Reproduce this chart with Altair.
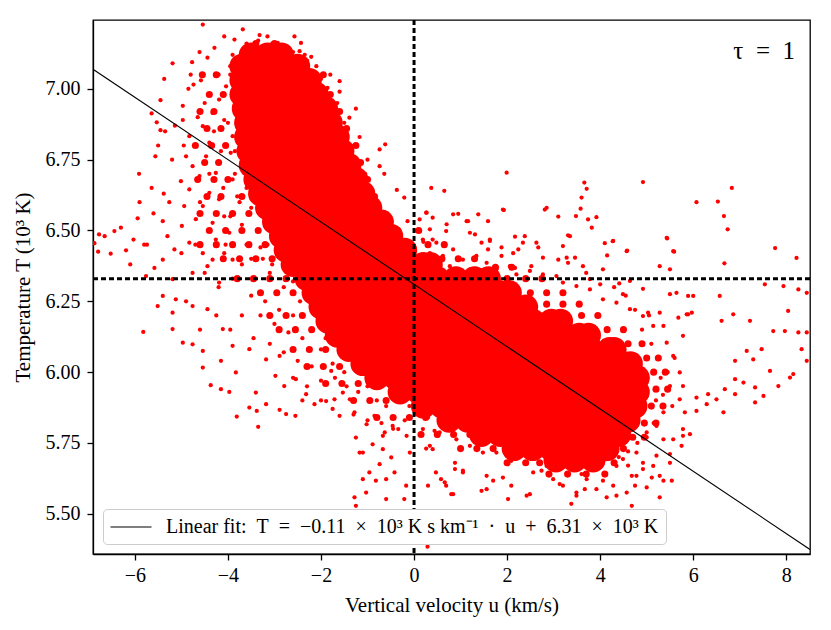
import altair as alt
import pandas as pd

# ---------------- data ----------------
# solid core of the cloud: rows of (T, [u positions])
core_rows = [
    (7.12, [-3.5, -3.15, -2.85]),
    (7.08, [-3.7, -3.3, -2.9, -2.5]),
    (7.03, [-3.7, -3.3, -2.9, -2.5, -2.25]),
    (6.98, [-3.7, -3.3, -2.9, -2.5, -2.1]),
    (6.93, [-3.65, -3.25, -2.85, -2.45, -2.05, -1.9]),
    (6.88, [-3.6, -3.2, -2.8, -2.4, -2.0, -1.8]),
    (6.83, [-3.6, -3.2, -2.8, -2.4, -2.0, -1.65]),
    (6.78, [-3.55, -3.15, -2.75, -2.35, -1.95, -1.55]),
    (6.73, [-3.5, -3.1, -2.7, -2.3, -1.9, -1.5, -1.4]),
    (6.68, [-3.4, -3.0, -2.6, -2.2, -1.8, -1.4, -1.25]),
    (6.63, [-3.3, -2.9, -2.5, -2.1, -1.7, -1.3, -1.1]),
    (6.58, [-3.15, -2.75, -2.35, -1.95, -1.55, -1.15, -0.95]),
    (6.53, [-3.0, -2.6, -2.2, -1.8, -1.4, -1.0, -0.7]),
    (6.48, [-2.85, -2.45, -2.05, -1.65, -1.25, -0.85, -0.5]),
    (6.43, [-2.75, -2.35, -1.95, -1.55, -1.15, -0.75, -0.35, -0.2]),
    (6.38, [-2.6, -2.2, -1.8, -1.4, -1.0, -0.6, -0.2, 0.2, 0.35]),
    (6.33, [-2.3, -1.9, -1.5, -1.1, -0.7, -0.3, 0.1, 0.5, 0.9, 1.3, 1.6]),
    (6.28, [-2.15, -1.75, -1.35, -0.95, -0.55, -0.15, 0.25, 0.65, 1.05, 1.45, 1.85, 2.05]),
    (6.23, [-2.0, -1.6, -1.2, -0.8, -0.4, 0.0, 0.4, 0.8, 1.2, 1.6, 2.0, 2.4]),
    (6.18, [-1.85, -1.45, -1.05, -0.65, -0.25, 0.15, 0.55, 0.95, 1.35, 1.75, 2.15, 2.55, 2.95, 3.15]),
    (6.13, [-1.65, -1.25, -0.85, -0.45, -0.05, 0.35, 0.75, 1.15, 1.55, 1.95, 2.35, 2.75, 3.15, 3.55, 3.75]),
    (6.08, [-1.4, -1.0, -0.6, -0.2, 0.2, 0.6, 1.0, 1.4, 1.8, 2.2, 2.6, 3.0, 3.4, 3.8, 4.2, 4.3]),
    (6.03, [-1.1, -0.7, -0.3, 0.1, 0.5, 0.9, 1.3, 1.7, 2.1, 2.5, 2.9, 3.3, 3.7, 4.1, 4.5, 4.65]),
    (5.98, [-0.8, -0.4, 0.0, 0.4, 0.8, 1.2, 1.6, 2.0, 2.4, 2.8, 3.2, 3.6, 4.0, 4.4, 4.8]),
    (5.93, [-0.3, 0.1, 0.5, 0.9, 1.3, 1.7, 2.1, 2.5, 2.9, 3.3, 3.7, 4.1, 4.5, 4.8]),
    (5.88, [0.2, 0.6, 1.0, 1.4, 1.8, 2.2, 2.6, 3.0, 3.4, 3.8, 4.2, 4.6, 4.75]),
    (5.83, [0.75, 1.15, 1.55, 1.95, 2.35, 2.75, 3.15, 3.55, 3.95, 4.35, 4.6]),
    (5.78, [1.45, 1.85, 2.25, 2.65, 3.05, 3.45, 3.85, 4.25, 4.4]),
    (5.73, [2.15, 2.55, 2.95, 3.35, 3.75, 4.15]),
    (5.69, [3.05, 3.45, 3.85]),
]

# semi-dense halo around the core: rows of (T, [u positions])
halo_rows = [
    (7.16, [-3.4, -3.0]),
    (7.05, [-4.25, -4.55, -1.95]),
    (6.98, [-4.1, -4.4, -1.8]),
    (6.92, [-4.3, -4.6, -1.6]),
    (6.86, [-4.15, -4.45, -1.45]),
    (6.80, [-4.05, -4.35, -4.7, -1.25]),
    (6.74, [-4.2, -4.5, -1.15]),
    (6.68, [-4.0, -4.3, -4.65, -1.0]),
    (6.62, [-3.7, -4.15, -4.45, -0.85]),
    (6.56, [-3.55, -3.9, -4.25, -4.6, -0.65]),
    (6.50, [-3.35, -3.7, -4.05, -4.4, -0.35, 0.1]),
    (6.45, [-3.2, -3.55, -3.9, -4.25, -4.6, 0.3, 0.65]),
    (6.40, [-3.05, -3.4, -3.75, -4.1, 0.6, 0.95, 1.3]),
    (6.37, [1.75, 2.1]),
    (6.33, [-2.75, -3.1, -3.45, -3.8, 2.0, 2.4, 2.75]),
    (6.28, [-2.6, -2.95, -3.3, 2.5, 2.85, 3.2]),
    (6.24, [2.85, 3.2, 3.55]),
    (6.20, [-2.4, -2.75, -3.1, 3.6, 3.95]),
    (6.15, [-2.2, -2.55, -2.9, 4.15, 4.5]),
    (6.10, [4.6, 4.9]),
    (6.08, [-1.9, -2.25, -2.6]),
    (6.05, [5.0, 5.25]),
    (6.02, [-1.6, -1.95, -2.3]),
    (6.00, [5.15, 5.4]),
    (5.96, [-1.2, -1.55, -1.9]),
    (5.94, [5.2, 5.45]),
    (5.90, [-0.6, -0.95, -1.3]),
    (5.88, [5.1, 5.35]),
    (5.84, [-0.1, 0.25, -0.45, -0.8]),
    (5.82, [4.95, 5.2]),
    (5.78, [0.15, 0.5, 0.85, 1.2]),
    (5.77, [4.7, 4.95]),
    (5.73, [1.0, 1.35, 1.7, 4.5]),
    (5.68, [2.0, 2.4, 2.7, 4.3]),
    (5.64, [2.9, 3.3, 3.7, 4.1]),
]

# scattered points (u, T)
pts_upper_left = [
    (-5.19, 7.09), (-5.37, 7.035), (-4.77, 7.094), (-5.45, 6.96), (-5.64, 6.913), (-5.53, 6.882),
    (-5.45, 6.854), (-5.50, 6.80), (-5.56, 6.762), (-5.91, 6.70), (-5.64, 6.65), (-5.94, 6.543),
    (-6.30, 6.51), (-6.44, 6.498), (-6.77, 6.486), (-6.65, 6.48), (-6.87, 6.455), (-6.79, 6.425),
    (-6.52, 6.418), (-6.19, 6.43), (-6.03, 6.468), (-5.74, 6.45), (-5.40, 6.533), (-5.38, 6.63),
    (-5.26, 6.60), (-5.14, 6.87), (-4.97, 6.94), (-4.85, 7.00), (-4.74, 7.015), (-4.58, 7.03),
    (-4.61, 7.13), (-4.44, 7.11), (-4.29, 7.145), (-4.54, 7.227), (-4.08, 7.185), (-3.86, 7.174),
    (-3.68, 7.21), (-3.32, 7.19), (-3.15, 7.185), (-2.93, 7.162), (-2.57, 7.185), (-2.43, 7.162),
    (-2.46, 7.133), (-2.21, 7.113), (-2.39, 7.09), (-2.00, 7.035), (-1.86, 7.003), (-1.60, 7.027),
    (-1.60, 6.99), (-1.25, 6.93), (-1.39, 6.898), (-1.17, 6.83), (-0.74, 6.786), (-0.62, 6.804),
    (-1.00, 6.75), (-0.74, 6.727), (-0.64, 6.70), (-0.37, 6.643), (-0.21, 6.616), (0.37, 6.65),
    (0.65, 6.64), (0.26, 6.563), (0.40, 6.545), (0.69, 6.498), (0.40, 6.468), (-0.14, 6.533),
    (-1.65, 6.95), (-1.5, 6.88), (-1.35, 6.8), (-1.2, 6.74), (-1.05, 6.7), (-0.9, 6.62),
    (-0.8, 6.58), (-0.6, 6.55), (-0.45, 6.5), (-0.3, 6.47), (-0.15, 6.42), (0.0, 6.44), (0.2, 6.46),
    (-1.8, 7.05), (-2.1, 7.08), (-2.3, 7.1), (-1.95, 7.0), (-3.6, 7.16), (-3.35, 7.17), (-3.05, 7.16),
    (-2.75, 7.15), (-2.6, 7.13), (-3.9, 7.12), (-3.95, 7.08), (-2.35, 7.12), (-3.8, 7.0),
]

pts_mid_left = [
    (-5.01, 6.674), (-4.83, 6.645), (-4.94, 6.586), (-4.69, 6.54), (-4.99, 6.516), (-5.15, 6.433),
    (-4.83, 6.457), (-4.54, 6.42), (-5.40, 6.397), (-5.58, 6.368), (-5.76, 6.339), (-5.19, 6.328),
    (-4.76, 6.35), (-4.44, 6.374), (-4.19, 6.316), (-4.97, 6.89), (-4.83, 6.833), (-4.90, 6.762),
    (-4.76, 6.727), (-4.61, 6.692), (-4.47, 6.762), (-4.40, 6.81), (-4.54, 6.868), (-4.33, 6.915),
    (-4.19, 6.962), (-4.04, 7.009), (-4.08, 6.89), (-4.26, 6.703), (-4.40, 6.633), (-4.19, 6.61),
    (-4.54, 6.586), (-4.33, 6.527), (-4.08, 6.55), (-3.97, 6.492), (-4.26, 6.468), (-4.08, 6.42),
    (-3.90, 6.397), (-4.33, 6.397), (-3.90, 6.68), (-3.94, 6.774), (-3.90, 6.833), (-3.83, 6.927),
    (-4.5, 6.95), (-4.3, 6.85), (-4.15, 6.78), (-4.4, 6.7), (-4.1, 6.65), (-4.0, 6.88), (-3.95, 7.05),
    (-4.2, 7.05), (-4.6, 6.6), (-4.7, 6.45), (-4.5, 6.35), (-4.2, 6.3), (-3.9, 6.33), (-3.7, 6.38),
    (-3.95, 6.55), (-3.8, 6.62), (-3.85, 6.7), (-3.85, 6.78), (-4.05, 6.45), (-3.7, 6.2), (-3.95, 6.15),
    (-4.25, 6.2), (-4.6, 6.15), (-4.9, 6.25), (-5.0, 6.42), (-5.3, 6.48), (-5.6, 6.56), (-5.8, 6.45),
    (-6.1, 6.38), (-5.9, 6.6), (-5.2, 6.75), (-5.35, 6.85), (-4.95, 6.8), (-4.65, 6.9), (-4.8, 7.05),
    (-3.6, 6.45), (-3.35, 6.5), (-3.5, 6.58), (-3.25, 6.4), (-3.45, 6.33), (-3.6, 6.65), (-3.7, 6.52),
    (-3.15, 6.45), (-3.4, 6.62), (-3.65, 6.9), (-3.75, 6.85), (-3.7, 6.75), (-3.55, 6.72), (-3.05, 6.38),
    (-3.3, 6.44), (-3.75, 6.6), (-3.5, 6.4), (-3.2, 6.55),
]

pts_lower_left = [
    (-5.82, 6.142), (-5.51, 6.233), (-5.19, 6.152), (-4.97, 6.104), (-4.76, 6.098), (-4.54, 6.016),
    (-4.37, 5.954), (-4.15, 5.94), (-3.97, 5.93), (-3.81, 5.843), (-3.54, 5.875), (-3.35, 5.807),
    (-3.38, 5.863), (-3.18, 5.887), (-2.89, 5.867), (-2.75, 5.852), (-2.55, 5.846), (-2.79, 5.951),
    (-2.98, 5.987), (-3.40, 5.928), (-3.83, 5.999), (-4.15, 6.04), (-4.54, 6.075), (-5.19, 6.21),
    (-5.40, 6.269), (-5.12, 6.257), (-4.76, 6.233), (-4.44, 6.222), (-4.11, 6.152), (-3.90, 6.093),
    (-3.54, 6.081), (-3.18, 6.045), (-2.89, 6.057), (-2.54, 5.975), (-2.32, 5.922), (-2.14, 5.887),
    (-1.89, 5.898), (-1.60, 5.846), (-1.25, 5.769), (-1.17, 5.716), (-0.96, 5.646), (-1.10, 5.622),
    (-0.82, 5.617), (-0.74, 5.675), (-0.60, 5.622), (-0.89, 5.745), (-0.67, 5.775), (-0.42, 5.646),
    (-0.21, 5.552), (-0.60, 5.552), (-1.03, 5.575), (-1.28, 5.558), (-1.25, 5.528), (-0.17, 5.599),
    (-0.46, 5.81), (0.47, 5.646), (0.58, 5.622), (0.69, 5.599), (0.26, 5.73), (0.40, 5.728),
    (0.29, 5.384), (0.51, 5.775), (0.44, 5.793),
    (-3.1, 6.35), (-2.8, 6.3), (-3.5, 6.27), (-3.2, 6.25), (-2.9, 6.22), (-2.6, 6.2), (-3.3, 6.2),
    (-3.0, 6.17), (-2.7, 6.14), (-2.4, 6.12), (-3.45, 6.12), (-3.1, 6.1), (-2.8, 6.07), (-2.5, 6.04),
    (-2.2, 6.02), (-2.0, 5.97), (-1.7, 5.98), (-1.45, 5.95), (-1.2, 5.93), (-1.0, 5.95), (-0.8, 5.9),
    (-0.6, 5.88), (-2.3, 5.95), (-2.6, 5.98), (-2.4, 5.9), (-2.0, 5.9), (-1.75, 5.87), (-1.3, 5.85),
    (-1.0, 5.83), (-0.7, 5.82), (-0.45, 5.8), (-0.2, 5.83), (-0.1, 5.88), (-2.2, 6.15), (-2.45, 6.25),
    (-2.0, 6.08), (-1.75, 6.03), (-1.5, 6.0), (-1.9, 6.12), (-2.6, 6.32), (-2.8, 6.38), (-0.3, 5.9),
    (-1.71, 5.904), (-1.53, 5.928), (-1.78, 6.004), (-0.09, 5.716), (-0.16, 5.775), (-0.34, 5.799),
    (-0.63, 5.787), (-0.85, 5.846), (-1.02, 5.816), (-1.28, 5.858), (-1.38, 5.904), (-0.49, 5.699),
    (-0.67, 5.728), (-1.10, 5.716),
]

pts_upper_right = [
    (1.99, 6.704), (1.93, 6.572), (3.66, 6.669), (3.71, 6.647), (3.60, 6.616), (3.58, 6.577),
    (3.48, 6.551), (3.74, 6.539), (3.92, 6.547), (3.82, 6.51), (2.85, 6.58), (2.81, 6.574),
    (3.10, 6.549), (3.31, 6.483), (3.20, 6.445), (4.92, 6.671), (5.44, 6.472), (5.59, 6.425),
    (5.28, 6.374), (5.50, 6.363), (6.07, 6.60), (6.53, 6.602), (6.83, 6.65), (6.66, 6.551),
    (6.74, 6.504), (6.67, 6.384), (7.76, 6.438), (8.22, 6.403), (4.10, 6.455), (4.27, 6.462),
    (4.15, 6.412), (4.58, 6.429), (4.41, 6.313), (4.64, 6.322), (4.06, 6.363), (3.78, 6.328),
    (4.92, 6.294), (7.54, 6.31), (7.94, 6.304), (2.63, 6.457), (2.77, 6.404), (2.38, 6.48),
    (2.17, 6.478), (2.24, 6.433), (2.52, 6.374), (3.10, 6.397), (3.31, 6.386), (3.46, 6.404),
    (1.88, 6.44), (1.88, 6.41), (1.59, 6.533), (1.38, 6.557), (1.16, 6.533), (0.95, 6.559),
    (0.84, 6.557), (1.20, 6.492), (1.45, 6.457), (1.63, 6.468), (1.59, 6.433), (2.17, 6.368),
    (1.91, 6.574), (0.27, 6.563), (0.70, 6.522), (1.13, 6.533), (1.31, 6.486), (1.63, 6.463),
    (2.13, 6.42), (2.34, 6.457), (2.67, 6.44), (3.35, 6.48), (3.28, 6.404), (3.63, 6.374),
    (4.28, 6.463), (4.57, 6.427), (5.43, 6.474), (5.57, 6.427), (4.49, 6.275),
    (0.12, 6.539), (0.34, 6.504), (0.19, 6.468), (0.48, 6.457), (0.34, 6.42), (0.62, 6.41),
    (0.84, 6.433), (1.05, 6.397), (0.77, 6.374), (1.34, 6.41), (1.56, 6.386), (1.20, 6.363),
    (1.77, 6.363), (2.06, 6.374), (2.20, 6.345), (2.49, 6.357), (2.77, 6.345), (3.06, 6.339),
    (3.20, 6.316), (3.49, 6.304), (3.78, 6.292), (4.06, 6.257), (4.35, 6.245), (4.64, 6.222),
    (4.92, 6.198), (5.14, 6.163), (5.36, 6.163), (5.43, 6.104), (5.57, 6.057), (5.71, 5.999),
    (5.50, 5.951), (5.78, 5.951), (5.36, 5.858), (5.21, 5.81), (5.00, 5.787), (5.36, 5.763),
]

pts_lower_right = [
    (8.44, 6.28), (8.26, 6.292), (8.04, 6.216), (7.72, 6.145), (7.97, 6.145), (8.26, 6.14),
    (8.44, 6.14), (8.33, 6.081), (8.44, 6.04), (8.15, 5.993), (8.08, 5.981), (7.83, 5.951),
    (7.65, 6.004), (7.47, 6.081), (7.22, 6.181), (6.86, 6.204), (6.61, 6.181), (6.57, 6.269),
    (6.00, 6.269), (5.97, 6.21), (5.64, 6.28), (5.50, 6.275), (5.89, 6.204), (5.28, 6.21),
    (5.03, 6.21), (7.15, 6.075), (7.29, 6.045), (6.90, 6.04), (6.90, 5.975), (7.08, 5.963),
    (7.33, 5.946), (7.51, 5.916), (7.33, 5.893), (6.90, 5.922), (6.68, 5.94), (6.65, 5.858),
    (6.50, 5.904), (6.29, 5.887), (6.32, 5.922), (6.07, 5.91), (6.07, 5.863), (5.82, 5.858),
    (5.93, 5.781), (5.78, 5.775), (5.50, 5.711), (5.21, 5.705), (5.54, 5.617), (5.36, 5.617),
    (5.28, 5.558), (5.00, 5.593), (4.68, 5.528), (4.14, 5.558), (4.35, 5.564), (3.92, 5.587),
    (3.49, 5.564), (3.38, 5.535), (3.20, 5.599), (2.99, 5.622), (2.42, 5.564), (2.02, 5.552),
    (1.70, 5.617), (1.56, 5.587), (1.45, 5.581), (1.05, 5.652), (0.88, 5.658), (0.84, 5.569),
    (1.91, 5.628), (2.09, 5.687), (2.56, 5.646), (2.74, 5.652), (3.71, 5.622), (4.92, 5.658),
    (5.14, 5.669), (4.78, 5.634),
    (5.89, 6.269), (5.86, 6.204), (5.68, 6.192), (5.78, 6.128), (5.71, 5.904), (5.78, 5.799),
    (5.75, 5.74), (5.57, 5.763), (5.50, 5.68), (5.28, 5.634), (5.11, 5.628), (4.92, 5.68),
    (4.75, 5.599), (4.68, 5.634), (4.57, 5.575), (4.28, 5.599), (4.06, 5.617), (3.67, 5.587),
    (3.49, 5.575), (3.13, 5.605), (2.85, 5.669), (2.49, 5.569), (2.09, 5.599), (1.56, 5.634),
    (1.05, 5.646), (0.88, 5.68), (0.66, 5.611), (0.30, 5.599), (0.80, 5.569),
    (4.78, 5.716), (4.49, 5.693), (4.35, 5.669), (4.14, 5.693), (3.92, 5.716), (3.63, 5.669),
    (3.35, 5.693), (3.13, 5.669), (2.63, 5.705), (2.34, 5.716), (2.06, 5.693), (1.77, 5.716),
    (1.48, 5.716), (1.20, 5.74), (0.91, 5.763), (0.55, 5.787), (0.34, 5.74), (0.19, 5.799),
    (4.9, 6.15), (5.1, 6.1), (5.25, 6.05), (5.3, 5.98), (5.2, 5.9), (5.35, 5.92), (5.15, 5.82),
    (5.0, 5.77), (4.8, 5.75), (4.6, 5.72), (5.45, 6.0), (5.6, 6.05), (5.55, 5.88), (5.05, 6.2),
    (4.75, 6.22), (4.55, 6.27), (4.3, 6.3), (4.0, 6.31), (3.7, 6.35), (4.4, 5.7), (4.6, 5.67),
    (3.9, 5.66), (3.6, 5.64), (3.3, 5.67), (3.0, 5.7), (2.7, 5.73), (2.4, 5.75), (2.1, 5.76),
    (1.8, 5.75), (1.5, 5.77), (1.2, 5.79), (0.9, 5.81), (0.6, 5.83), (0.3, 5.84), (0.05, 5.86),
]

# linear fit line, as drawn edge to edge
fit_u = [-6.9, 8.51]
fit_T = [7.069, 5.374]
fit_label = ("Linear fit:\u2002T\u2002=\u2002\u22120.11\u2002\u00d7\u200210\u00b3 K s km\u207b\u00b9"
             "\u2002\u00b7\u2002u\u2002+\u20026.31\u2002\u00d7\u200210\u00b3 K")

# dotted reference lines
ref_u = [0.0]
ref_T = [6.33]

panel_text = ["\u03c4\u2002=\u20021"]

x_ticks = [-6, -4, -2, 0, 2, 4, 6, 8]
y_ticks = [5.50, 5.75, 6.00, 6.25, 6.50, 6.75, 7.00]
x_domain = [-6.9, 8.51]
y_domain = [5.358, 7.243]

# ---------------- chart ----------------
W, H = 717, 534
FONT = "Liberation Serif"
RED = "#ff0000"

core_df = pd.DataFrame([(u, T) for T, us in core_rows for u in us], columns=["u", "T"])
halo_df = pd.DataFrame([(u, T) for T, us in halo_rows for u in us], columns=["u", "T"])
sparse_df = pd.DataFrame(
    pts_upper_left + pts_mid_left + pts_lower_left + pts_upper_right + pts_lower_right,
    columns=["u", "T"],
)
fit_df = pd.DataFrame({"u": fit_u, "T": fit_T, "label": [fit_label] * len(fit_u)})
vref_df = pd.DataFrame({"u": ref_u})
href_df = pd.DataFrame({"T": ref_T})
txt_df = pd.DataFrame({"t": panel_text})

xs = alt.Scale(domain=x_domain, nice=False, zero=False)
ys = alt.Scale(domain=y_domain, nice=False, zero=False)
xax = alt.Axis(values=x_ticks, format="d", title="Vertical velocity u (km/s)", grid=False,
               titlePadding=9, labelPadding=5)
yax = alt.Axis(values=y_ticks, format=".2f", title="Temperature T (10\u00b3 K)", grid=False,
               titlePadding=12, labelPadding=7)

X = alt.X("u:Q", scale=xs, axis=xax)
Y = alt.Y("T:Q", scale=ys, axis=yax)

core = alt.Chart(core_df).mark_circle(size=620, color=RED, opacity=1, strokeWidth=0, clip=True).encode(x=X, y=Y)
halo = alt.Chart(halo_df).mark_circle(size=50, color=RED, opacity=1, strokeWidth=0, clip=True).encode(x=X, y=Y)
sparse = alt.Chart(sparse_df).mark_circle(size=18, color=RED, opacity=1, strokeWidth=0, clip=True).encode(x=X, y=Y)

fit = alt.Chart(fit_df).mark_line(strokeWidth=1.1, clip=True).encode(
    x=X, y=Y,
    color=alt.Color("label:N", scale=alt.Scale(range=["black"]),
                    legend=alt.Legend(title=None, orient="bottom-left", offset=10,
                                      symbolType="M-2,0H2", symbolSize=420,
                                      symbolStrokeWidth=1.1, symbolOffset=10,
                                      labelFont=FONT, labelFontSize=20, labelLimit=2000,
                                      labelOffset=24, fillColor="white",
                                      strokeColor="#cccccc", cornerRadius=4, padding=7)),
)

vref = alt.Chart(vref_df).mark_rule(color="black", strokeWidth=3, strokeDash=[5, 3]).encode(
    x=alt.X("u:Q", scale=xs, axis=xax))
href = alt.Chart(href_df).mark_rule(color="black", strokeWidth=3, strokeDash=[5, 3]).encode(
    y=alt.Y("T:Q", scale=ys, axis=yax))

label = alt.Chart(txt_df).mark_text(align="right", baseline="alphabetic", font=FONT,
                                    fontSize=25, color="black").encode(
    text="t:N", x=alt.value(W - 15), y=alt.value(39))

chart = alt.layer(sparse, halo, core, fit, vref, href, label).properties(
    width=W, height=H,
    autosize=alt.AutoSizeParams(type="none"),
    padding={"left": 85, "top": 12, "right": 13, "bottom": 68},
).configure_view(
    stroke="black", strokeWidth=1.3
).configure_axis(
    labelFont=FONT, titleFont=FONT, labelFontSize=20, titleFontSize=21,
    titleFontWeight="normal", labelColor="black", titleColor="black",
    domainColor="black", domainWidth=1.3, tickColor="black", tickWidth=1.3,
    tickSize=6,
)

chart.save("out.html", embed_options={"renderer": "svg", "actions": False})
